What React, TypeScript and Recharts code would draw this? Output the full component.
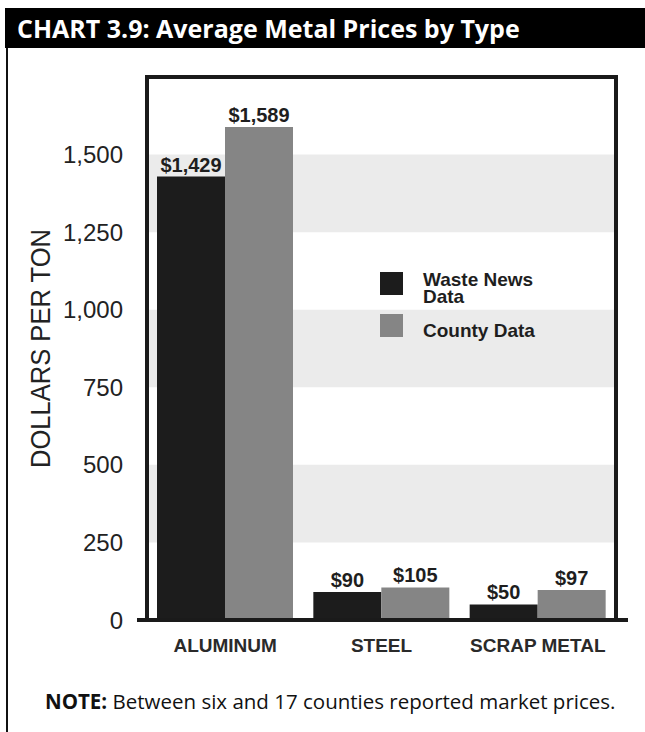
import React from "react";
import {
  BarChart,
  Bar,
  XAxis,
  YAxis,
  Legend,
  LabelList,
  ReferenceArea,
} from "recharts";

// Chart 3.9 data
const categories = ["ALUMINUM", "STEEL", "SCRAP METAL"];
const wasteNewsPrices = [1429, 90, 50];
const countyPrices = [1589, 105, 97];
const seriesOrder = ["wasteNews", "county"];
const yTicks = [0, 250, 500, 750, 1000, 1250, 1500];
const yMax = 1750;
const shadedBands = [
  [250, 500],
  [750, 1000],
  [1250, 1500],
];

const ARIAL = "'Liberation Sans', Arial, sans-serif";
const FRUTIGER = "'Open Sans', 'Noto Sans', sans-serif";

const withCommas = (v: number) => String(v).replace(/\B(?=(\d{3})+(?!\d))/g, ",");

const LegendBox = ({ payload }: any) => {
  const items = [...(payload || [])].sort(
    (a: any, b: any) => seriesOrder.indexOf(a.dataKey) - seriesOrder.indexOf(b.dataKey)
  );
  return (
    <div style={{ fontFamily: ARIAL, fontWeight: "bold", fontSize: 19, color: "#1e1e1e" }}>
      {items.map((item: any, i: number) => (
        <div
          key={item.value}
          style={{ display: "flex", alignItems: "flex-start", marginBottom: i === 0 ? 9 : 0 }}
        >
          <div style={{ width: 23, height: 23, background: item.color, flexShrink: 0 }} />
          <div style={{ marginLeft: 20, width: 125, lineHeight: "17px", marginTop: i === 0 ? -1 : 8 }}>
            {item.value}
          </div>
        </div>
      ))}
    </div>
  );
};

const AxisTitle = ({ viewBox }: any) => {
  const cx = viewBox.x + 41;
  const cy = viewBox.y + viewBox.height / 2;
  return (
    <text
      x={cx}
      y={cy}
      transform={`rotate(-90 ${cx} ${cy})`}
      textAnchor="middle"
      dominantBaseline="central"
      fontFamily={ARIAL}
      fontSize={27}
      textLength={239}
      lengthAdjust="spacingAndGlyphs"
      fill="#222"
    >
      DOLLARS PER TON
    </text>
  );
};

export default function App() {
  const data = categories.map((category, i) => ({
    category,
    wasteNews: wasteNewsPrices[i],
    county: countyPrices[i],
  }));

  return (
    <div style={{ position: "absolute", left: 0, top: 0, width: 645, height: 732, background: "#fff" }}>
      <div
        style={{
          position: "absolute",
          left: 5,
          top: 8,
          width: 640,
          height: 40,
          background: "#000",
          color: "#fff",
          fontFamily: FRUTIGER,
          fontWeight: "bold",
          fontSize: 25,
          lineHeight: "40px",
          paddingLeft: 12,
          boxSizing: "border-box",
          whiteSpace: "nowrap",
        }}
      >
        CHART 3.9: Average Metal Prices by Type
      </div>
      <div style={{ position: "absolute", left: 6, top: 48, width: 2, height: 684, background: "#111" }} />

      <div style={{ position: "absolute", left: 0, top: 0 }}>
        <BarChart
          width={645}
          height={732}
          data={data}
          margin={{ top: 77, right: 17, bottom: 72, left: 0 }}
          barGap={0}
          barCategoryGap={10}
        >
          {shadedBands.map(([lo, hi]) => (
            <ReferenceArea key={lo} y1={lo} y2={hi} fill="#ebebeb" fillOpacity={1} stroke="none" />
          ))}
          <XAxis
            dataKey="category"
            height={40}
            padding={{ left: 10, right: 12 }}
            tickLine={false}
            tickSize={0}
            tickMargin={19}
            axisLine={{ stroke: "#1a1a1a", strokeWidth: 4 }}
            tick={{ fontFamily: ARIAL, fontWeight: "bold", fontSize: 19, fill: "#2a2a2a" }}
          />
          <YAxis
            width={137}
            domain={[0, yMax]}
            ticks={yTicks}
            tickLine={false}
            axisLine={false}
            tickSize={0}
            tickMargin={14}
            tickFormatter={withCommas}
            tick={{ fontFamily: ARIAL, fontSize: 24, fill: "#222" }}
            label={{ content: AxisTitle }}
          />
          <Legend
            verticalAlign="middle"
            align="center"
            layout="vertical"
            wrapperStyle={{ left: 380, top: 272, width: 220 }}
            content={LegendBox}
          />
          <Bar dataKey="wasteNews" name="Waste News Data" fill="#1c1c1c" isAnimationActive={false}>
            <LabelList
              dataKey="wasteNews"
              position="top"
              offset={5}
              formatter={(v: any) => `$${withCommas(v)}`}
              style={{ fontFamily: ARIAL, fontWeight: "bold", fontSize: 20, fill: "#1e1e1e" }}
            />
          </Bar>
          <Bar dataKey="county" name="County Data" fill="#858585" isAnimationActive={false}>
            <LabelList
              dataKey="county"
              position="top"
              offset={5}
              formatter={(v: any) => `$${withCommas(v)}`}
              style={{ fontFamily: ARIAL, fontWeight: "bold", fontSize: 20, fill: "#1e1e1e" }}
            />
          </Bar>
          <ReferenceArea
            y1={0}
            y2={yMax}
            fill="none"
            stroke="#1a1a1a"
            strokeWidth={4}
            ifOverflow="visible"
          />
        </BarChart>
      </div>

      <div
        style={{
          position: "absolute",
          left: 45,
          top: 687,
          fontFamily: FRUTIGER,
          fontSize: 20.5,
          color: "#111",
          whiteSpace: "nowrap",
        }}
      >
        <b>NOTE:</b> Between six and 17 counties reported market prices.
      </div>
    </div>
  );
}
